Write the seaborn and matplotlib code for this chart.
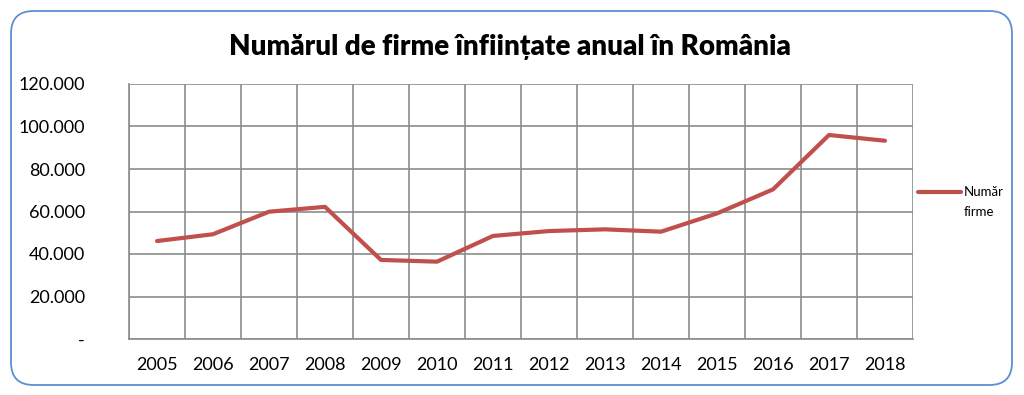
import numpy as np
import pandas as pd
import seaborn as sns
import matplotlib.pyplot as plt
from matplotlib.patches import FancyBboxPatch
from matplotlib.lines import Line2D
from matplotlib.ticker import FuncFormatter

years = [2005, 2006, 2007, 2008, 2009, 2010, 2011, 2012, 2013, 2014, 2015, 2016, 2017, 2018]
firme = [46100, 49300, 59900, 62200, 37200, 36400, 48500, 50800, 51600, 50500, 59100, 70400, 96000, 93300]
y_ticks = [0, 20000, 40000, 60000, 80000, 100000, 120000]

df = pd.DataFrame({"an": years, "firme": firme})

sns.set_style("white")
plt.rcParams['font.family'] = ['Lato', 'DejaVu Sans']
plt.rcParams['text.color'] = 'black'
plt.rcParams['xtick.color'] = 'black'
plt.rcParams['ytick.color'] = 'black'

fig = plt.figure(figsize=(10.24, 3.95), dpi=100)
ax = fig.add_axes([129 / 1024, 1 - 339 / 395, 784 / 1024, 255 / 395])

red = "#C0504D"
grid_c = "#8c8c8c"

sns.lineplot(data=df, x="an", y="firme", ax=ax, color=red, linewidth=3.0, legend=False)

ax.set_xlim(years[0] - 0.5, years[-1] + 0.5)
ax.set_ylim(y_ticks[0], y_ticks[-1])
ax.set_xticks(years)
ax.set_xticks(np.array(years + [years[-1] + 1]) - 0.5, minor=True)
ax.set_yticks(y_ticks)

def fmt(v, pos):
    if v == 0:
        return "-"
    return f"{int(v):,}".replace(",", ".")

ax.yaxis.set_major_formatter(FuncFormatter(fmt))
ax.grid(False)
ax.xaxis.grid(True, which="minor", color=grid_c, linewidth=1.2)
ax.yaxis.grid(True, which="major", color=grid_c, linewidth=1.2)
ax.tick_params(axis="x", which="major", length=0, labelsize=13, pad=13)
ax.tick_params(axis="x", which="minor", length=6, color=grid_c, width=1.2, direction="out")
ax.tick_params(axis="y", which="major", length=3.6, color=grid_c, width=1.2, labelsize=13, pad=28)
for s in ["top", "right"]:
    ax.spines[s].set_visible(False)
for s in ["left", "bottom"]:
    ax.spines[s].set_color(grid_c)
    ax.spines[s].set_linewidth(1.2)
ax.set_xlabel("")
ax.set_ylabel("")

fig.text(510 / 1024, 1 - 47 / 395, "Numărul de firme înființate anual în România",
         ha="center", va="center", fontsize=20, fontweight="heavy")

# legend
fig.lines.append(Line2D([918 / 1024, 961 / 1024], [1 - 192 / 395, 1 - 192 / 395],
                        color=red, linewidth=3.0, transform=fig.transFigure))
fig.text(964 / 1024, 1 - 192 / 395, "Număr", ha="left", va="center", fontsize=9.5)
fig.text(964 / 1024, 1 - 212 / 395, "firme", ha="left", va="center", fontsize=9.5)

box = FancyBboxPatch((11 / 1024, 10 / 395), 1001 / 1024, 374 / 395,
                     boxstyle="round,pad=0,rounding_size=0.022",
                     transform=fig.transFigure, fill=False,
                     edgecolor="#5b8fd6", linewidth=1.3, mutation_aspect=1024 / 395)
fig.patches.append(box)

fig.savefig("out.png", dpi=100)
